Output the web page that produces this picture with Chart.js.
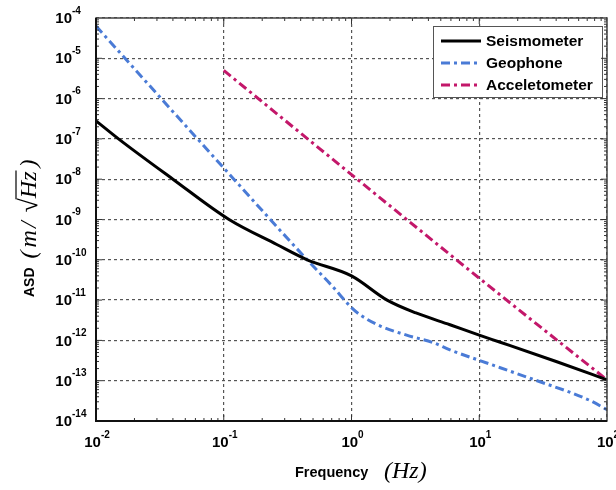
<!DOCTYPE html>
<html>
<head>
<meta charset="utf-8">
<script src="https://cdn.jsdelivr.net/npm/chart.js@4"></script>
<style>
  html, body { margin: 0; padding: 0; background: #fff; }
  #wrap { width: 616px; height: 490px; }
</style>
</head>
<body>
<div id="wrap"><canvas id="asdChart" width="616" height="490"></canvas></div>
<script>
// data (frequency in Hz, ASD in m/sqrt(Hz))
const seriesNames = ['Seismometer', 'Geophone', 'Acceletometer'];

const freqSeis = [0.01, 0.015, 0.04, 0.11, 0.26, 0.45, 1, 1.9, 3.2, 5.9, 10, 14.6, 40, 100];
const asdSeis = [2.8e-7, 1.0e-7, 1.0e-8, 1.0e-9, 2.4e-10, 1.0e-10, 4.0e-11, 1.0e-11, 4.8e-12, 2.45e-12, 1.35e-12, 9.0e-13, 3.0e-13, 1.05e-13];

const freqGeo = [0.01, 0.1, 0.45, 0.7, 1, 1.17, 1.67, 2.7, 4.4, 5.9, 10, 14.6, 26, 74, 100];
const asdGeo = [6.3e-5, 1.9e-8, 1.0e-10, 2.3e-11, 6.5e-12, 4.3e-12, 2.3e-12, 1.35e-12, 8.7e-13, 5.8e-13, 3.2e-13, 2.1e-13, 1.1e-13, 3.2e-14, 1.9e-14];

const freqAcc = [0.1, 1, 10, 100];
const asdAcc = [5.0e-6, 1.3e-8, 3.5e-11, 1.05e-13];

const xDecades = [-2, -1, 0, 1, 2];
const yDecades = [-14, -13, -12, -11, -10, -9, -8, -7, -6, -5, -4];

function toPoints(xs, ys) {
    return xs.map((x, i) => ({ x: x, y: ys[i] }));
}

const lineColors = ['#000000', '#4a7bd6', '#c3176a'];
const lineDashes = [[], [9, 4, 3, 4], [9, 4, 3, 4]];

const SANS = '"Liberation Sans", Arial, sans-serif';
const SERIF = '"Liberation Serif", "Times New Roman", serif';

// tick labels like 10^-4, drawn with a raised exponent
function drawPower(ctx, exp, x, y, align) {
    const base = '10';
    const sup = String(exp);
    ctx.font = 'bold 15px ' + SANS;
    const wb = ctx.measureText(base).width;
    ctx.font = 'bold 10px ' + SANS;
    const ws = ctx.measureText(sup).width;
    let left;
    if (align === 'right') left = x - wb;
    else left = x - (wb + ws) / 2 + 1;
    ctx.fillStyle = '#000';
    ctx.textBaseline = 'middle';
    ctx.textAlign = 'left';
    ctx.font = 'bold 15px ' + SANS;
    ctx.fillText(base, left, y);
    ctx.font = 'bold 10px ' + SANS;
    ctx.fillText(sup, left + wb, y - 8);
}

// draws pieces of text one after another, returns the end position
function drawRun(ctx, parts, x, y) {
    parts.forEach(p => {
        ctx.font = p.font;
        ctx.fillText(p.text, x, y + (p.dy || 0));
        const w = ctx.measureText(p.text).width;
        if (p.overline) {
            ctx.lineWidth = 1.2;
            ctx.beginPath();
            ctx.moveTo(x - 1, y - 18); ctx.lineTo(x + w + 1, y - 18);
            ctx.stroke();
        }
        x += w + (p.gap || 0);
    });
    return x;
}

const framePlugin = {
    id: 'framePlugin',
    afterDraw(chart) {
        const ctx = chart.ctx;
        const a = chart.chartArea;
        const xs = chart.scales.x;
        const ys = chart.scales.y;
        ctx.save();

        // minor and major ticks, pointing inward on all four sides
        ctx.strokeStyle = '#333';
        ctx.lineWidth = 1;
        ctx.setLineDash([]);
        for (let d = -2; d < 2; d++) {
            for (let m = 1; m <= 9; m++) {
                const px = xs.getPixelForValue(m * Math.pow(10, d));
                const len = m === 1 ? 6 : 3;
                ctx.beginPath();
                ctx.moveTo(px, a.bottom); ctx.lineTo(px, a.bottom - len);
                ctx.moveTo(px, a.top); ctx.lineTo(px, a.top + len);
                ctx.stroke();
            }
        }
        for (let d = -14; d < -4; d++) {
            for (let m = 1; m <= 9; m++) {
                const py = ys.getPixelForValue(m * Math.pow(10, d));
                const len = m === 1 ? 6 : 3;
                ctx.beginPath();
                ctx.moveTo(a.left, py); ctx.lineTo(a.left + len, py);
                ctx.moveTo(a.right, py); ctx.lineTo(a.right - len, py);
                ctx.stroke();
            }
        }

        // frame
        ctx.strokeStyle = '#444';
        ctx.lineWidth = 1.5;
        ctx.strokeRect(a.left, a.top, a.right - a.left, a.bottom - a.top);
        ctx.strokeStyle = '#111';
        ctx.lineWidth = 2;
        ctx.beginPath();
        ctx.moveTo(a.left, a.top); ctx.lineTo(a.left, a.bottom); ctx.lineTo(a.right, a.bottom);
        ctx.stroke();

        // tick labels
        yDecades.forEach(e => drawPower(ctx, e, 72, ys.getPixelForValue(Math.pow(10, e)) + 1, 'right'));
        xDecades.forEach(e => drawPower(ctx, e, xs.getPixelForValue(Math.pow(10, e)), 443, 'center'));

        // x title: Frequency (Hz)
        ctx.fillStyle = '#000';
        ctx.strokeStyle = '#000';
        ctx.textBaseline = 'alphabetic';
        ctx.textAlign = 'left';
        ctx.font = 'bold 14.5px ' + SANS;
        ctx.fillText('Frequency', 295, 477);
        ctx.font = 'italic 24px ' + SERIF;
        ctx.fillText('(Hz)', 384, 478);

        // y title: ASD (m/√Hz), rotated
        ctx.translate(34, 297);
        ctx.rotate(-Math.PI / 2);
        const serifIt = 'italic 24px ' + SERIF;
        const x0 = drawRun(ctx, [{ text: 'ASD', font: 'bold 14px ' + SANS, gap: 9 }], 0, 0);
        drawRun(ctx, [
            { text: '(', font: serifIt, gap: 3, dy: 2 },
            { text: 'm', font: serifIt, gap: 2, dy: 2 },
            { text: '/', font: serifIt, gap: 9, dy: 2 },
            { text: '\u221A', font: '26px ' + SERIF, gap: 0, dy: 3 },
            { text: 'Hz', font: serifIt, gap: 4, dy: 2, overline: true },
            { text: ')', font: serifIt, dy: 2 }
        ], x0, 0);
        ctx.restore();
    },
    afterDatasetsDraw(chart) {
        // legend box inside the plot, top right
        const ctx = chart.ctx;
        ctx.save();
        ctx.fillStyle = '#fff';
        ctx.fillRect(433, 26, 169, 71);
        ctx.strokeStyle = '#555';
        ctx.lineWidth = 1;
        ctx.setLineDash([]);
        ctx.strokeRect(433.5, 26.5, 169, 71);
        seriesNames.forEach((name, i) => {
            const y = 41 + i * 22;
            ctx.strokeStyle = lineColors[i];
            ctx.lineWidth = 3;
            ctx.setLineDash(lineDashes[i]);
            ctx.beginPath();
            ctx.moveTo(441, y); ctx.lineTo(481, y);
            ctx.stroke();
            ctx.setLineDash([]);
            ctx.fillStyle = '#000';
            ctx.font = 'bold 15.5px ' + SANS;
            ctx.textBaseline = 'middle';
            ctx.textAlign = 'left';
            ctx.fillText(name, 486, y + 1);
        });
        ctx.restore();
    }
};

function decadeTicks(list) {
    return function (scale) {
        scale.ticks = list.map(e => ({ value: Math.pow(10, e) }));
    };
}

const ctx = document.getElementById('asdChart').getContext('2d');
new Chart(ctx, {
    type: 'line',
    data: {
        datasets: [
            { label: seriesNames[0], data: toPoints(freqSeis, asdSeis) },
            { label: seriesNames[1], data: toPoints(freqGeo, asdGeo) },
            { label: seriesNames[2], data: toPoints(freqAcc, asdAcc) }
        ].map((ds, i) => Object.assign(ds, {
            borderColor: lineColors[i],
            borderDash: lineDashes[i],
            borderWidth: 3,
            pointRadius: 0,
            fill: false,
            cubicInterpolationMode: 'monotone'
        }))
    },
    options: {
        responsive: false,
        animation: false,
        layout: { padding: { left: 96, right: 9, top: 18, bottom: 69 } },
        plugins: { legend: { display: false }, tooltip: { enabled: false } },
        scales: {
            x: {
                type: 'logarithmic',
                min: 0.01,
                max: 100,
                afterBuildTicks: decadeTicks(xDecades),
                ticks: { display: false },
                border: { display: false, dash: [3, 3] },
                grid: { drawTicks: false, color: '#555', lineWidth: 1.2 }
            },
            y: {
                type: 'logarithmic',
                min: 1e-14,
                max: 1e-4,
                afterBuildTicks: decadeTicks(yDecades),
                ticks: { display: false },
                border: { display: false, dash: [3, 3] },
                grid: { drawTicks: false, color: '#555', lineWidth: 1.2 }
            }
        }
    },
    plugins: [framePlugin]
});
</script>
</body>
</html>
